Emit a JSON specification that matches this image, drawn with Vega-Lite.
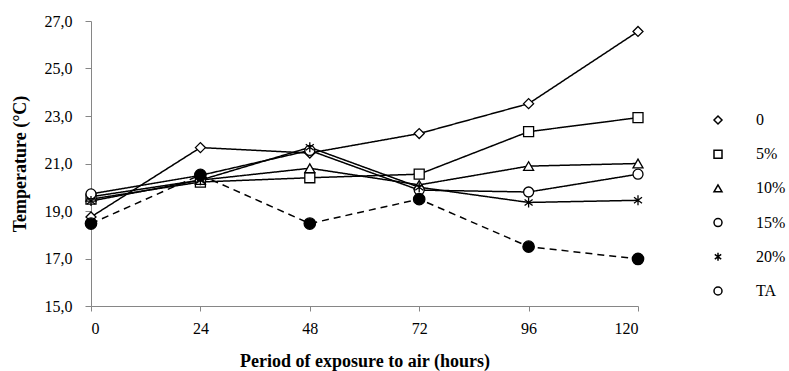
{
  "$schema": "https://vega.github.io/schema/vega-lite/v6.json",
  "width": 547,
  "height": 285,
  "autosize": "none",
  "padding": {"left": 91, "top": 21, "right": 151, "bottom": 65},
  "background": "white",
  "config": {"view": {"stroke": null}, "font": "Liberation Serif"},
  "data": {
    "values": [
      {"t": 0, "s": "0", "v": 18.75}, {"t": 24, "s": "0", "v": 21.67}, {"t": 48, "s": "0", "v": 21.44}, {"t": 72, "s": "0", "v": 22.26}, {"t": 96, "s": "0", "v": 23.52}, {"t": 120, "s": "0", "v": 26.56},
      {"t": 0, "s": "5%", "v": 19.5}, {"t": 24, "s": "5%", "v": 20.22}, {"t": 48, "s": "5%", "v": 20.4}, {"t": 72, "s": "5%", "v": 20.55}, {"t": 96, "s": "5%", "v": 22.34}, {"t": 120, "s": "5%", "v": 22.93},
      {"t": 0, "s": "10%", "v": 19.6}, {"t": 24, "s": "10%", "v": 20.3}, {"t": 48, "s": "10%", "v": 20.8}, {"t": 72, "s": "10%", "v": 20.1}, {"t": 96, "s": "10%", "v": 20.89}, {"t": 120, "s": "10%", "v": 21.0},
      {"t": 0, "s": "15%", "v": 19.72}, {"t": 24, "s": "15%", "v": 20.5}, {"t": 48, "s": "15%", "v": 21.55}, {"t": 72, "s": "15%", "v": 19.88}, {"t": 96, "s": "15%", "v": 19.8}, {"t": 120, "s": "15%", "v": 20.55},
      {"t": 0, "s": "20%", "v": 19.42}, {"t": 24, "s": "20%", "v": 20.3}, {"t": 48, "s": "20%", "v": 21.68}, {"t": 72, "s": "20%", "v": 20.0}, {"t": 96, "s": "20%", "v": 19.36}, {"t": 120, "s": "20%", "v": 19.45},
      {"t": 0, "s": "TA", "v": 18.47}, {"t": 24, "s": "TA", "v": 20.52}, {"t": 48, "s": "TA", "v": 18.47}, {"t": 72, "s": "TA", "v": 19.5}, {"t": 96, "s": "TA", "v": 17.5}, {"t": 120, "s": "TA", "v": 16.98}
    ]
  },
  "encoding": {
    "x": {
      "field": "t", "type": "quantitative",
      "scale": {"domain": [0, 120], "nice": false},
      "axis": {
        "values": [0, 24, 48, 72, 96, 120],
        "title": "Period of exposure to air (hours)",
        "grid": false,
        "domainColor": "#868686", "tickColor": "#868686", "tickSize": 5,
        "labelFont": "Liberation Serif", "labelFontSize": 16, "labelColor": "black", "labelPadding": 9,
        "titleFont": "Liberation Serif", "titleFontSize": 18, "titleFontWeight": "bold", "titleColor": "black", "titlePadding": 16
      }
    },
    "y": {
      "field": "v", "type": "quantitative",
      "scale": {"domain": [15, 27], "nice": false, "zero": false},
      "axis": {
        "values": [15, 17, 19, 21, 23, 25, 27],
        "labelExpr": "replace(format(datum.value, '.1f'), '.', ',')",
        "title": "Temperature (°C)",
        "grid": false,
        "domainColor": "#868686", "tickColor": "#868686", "tickSize": 6,
        "labelFont": "Liberation Serif", "labelFontSize": 16, "labelColor": "black", "labelPadding": 13,
        "titleFont": "Liberation Serif", "titleFontSize": 18, "titleFontWeight": "bold", "titleColor": "black", "titlePadding": 15
      }
    }
  },
  "layer": [
    {
      "mark": {"type": "line", "stroke": "black", "strokeWidth": 1.5},
      "encoding": {
        "detail": {"field": "s", "type": "nominal"},
        "strokeDash": {"condition": {"test": "datum.s === 'TA'", "value": [7, 5]}, "value": [1, 0]}
      }
    },
    {
      "mark": {"type": "point", "filled": true, "stroke": "black", "strokeWidth": 1.3, "opacity": 1},
      "encoding": {
        "shape": {
          "field": "s", "type": "nominal",
          "scale": {
            "domain": ["0", "5%", "10%", "15%", "20%", "TA"],
            "range": ["diamond", "square", "triangle-up", "circle", "M-0.8,-0.6L0.8,0.6M-0.8,0.6L0.8,-0.6M0,-1L0,1", "circle"]
          },
          "legend": {
            "title": null,
            "orient": "none",
            "legendX": 619,
            "legendY": 91,
            "padding": 0,
            "symbolSize": 64,
            "rowPadding": 18.2,
            "labelOffset": 30,
            "labelFont": "Liberation Serif",
            "labelFontSize": 16,
            "labelColor": "black"
          }
        },
        "fill": {"condition": {"test": "datum.s === 'TA'", "value": "black"}, "value": "white"},
        "size": {"condition": {"test": "datum.s === 'TA'", "value": 130}, "value": 100}
      }
    }
  ]
}
